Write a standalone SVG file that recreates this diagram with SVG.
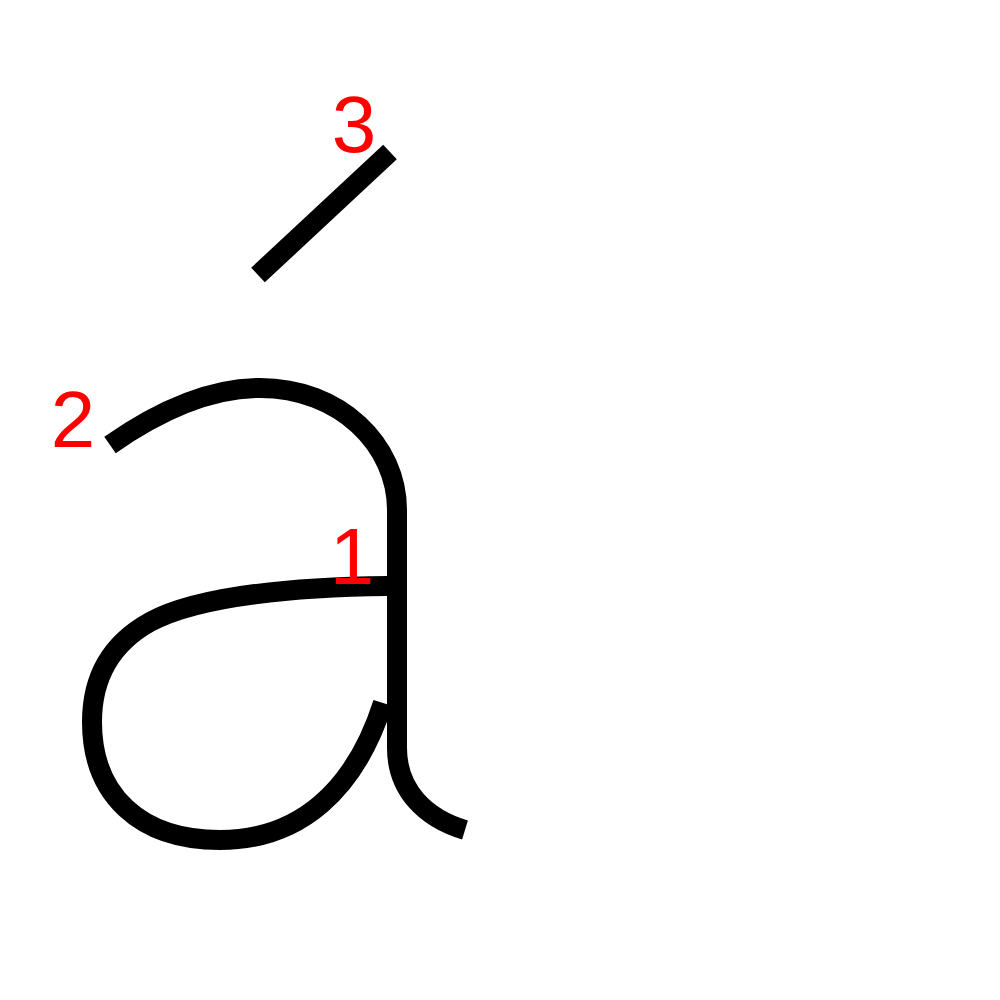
<svg xmlns="http://www.w3.org/2000/svg" width="1000" height="1000" viewBox="0 0 1000 1000">
<style>
.s{fill:none;stroke:#000;stroke-width:20;stroke-linecap:butt;stroke-linejoin:round}
.n{font-family:"Liberation Sans",Arial,sans-serif;font-size:80px;fill:#f00;text-anchor:middle}
</style>
<rect width="1000" height="1000" fill="#fff"/>
<g id="strokes">
<path id="s1" class="s" d="M388,586 C300,587 200,595 150,622 C105,647 92,685 92,722 C92,795 140,840 220,840 C300,840 355,790 383,703"/>
<path id="s2" class="s" d="M110,445 C160,410 210,388 260,388 C340,388 397,445 397,510 L397,748 C397,790 425,818 465,830"/>
<path id="s3" class="s" d="M258,275 L390,152"/>
</g>
<g id="labels">
<text class="n" x="352" y="584">1</text>
<text class="n" x="73" y="447">2</text>
<text class="n" x="354" y="152">3</text>
</g>
</svg>
